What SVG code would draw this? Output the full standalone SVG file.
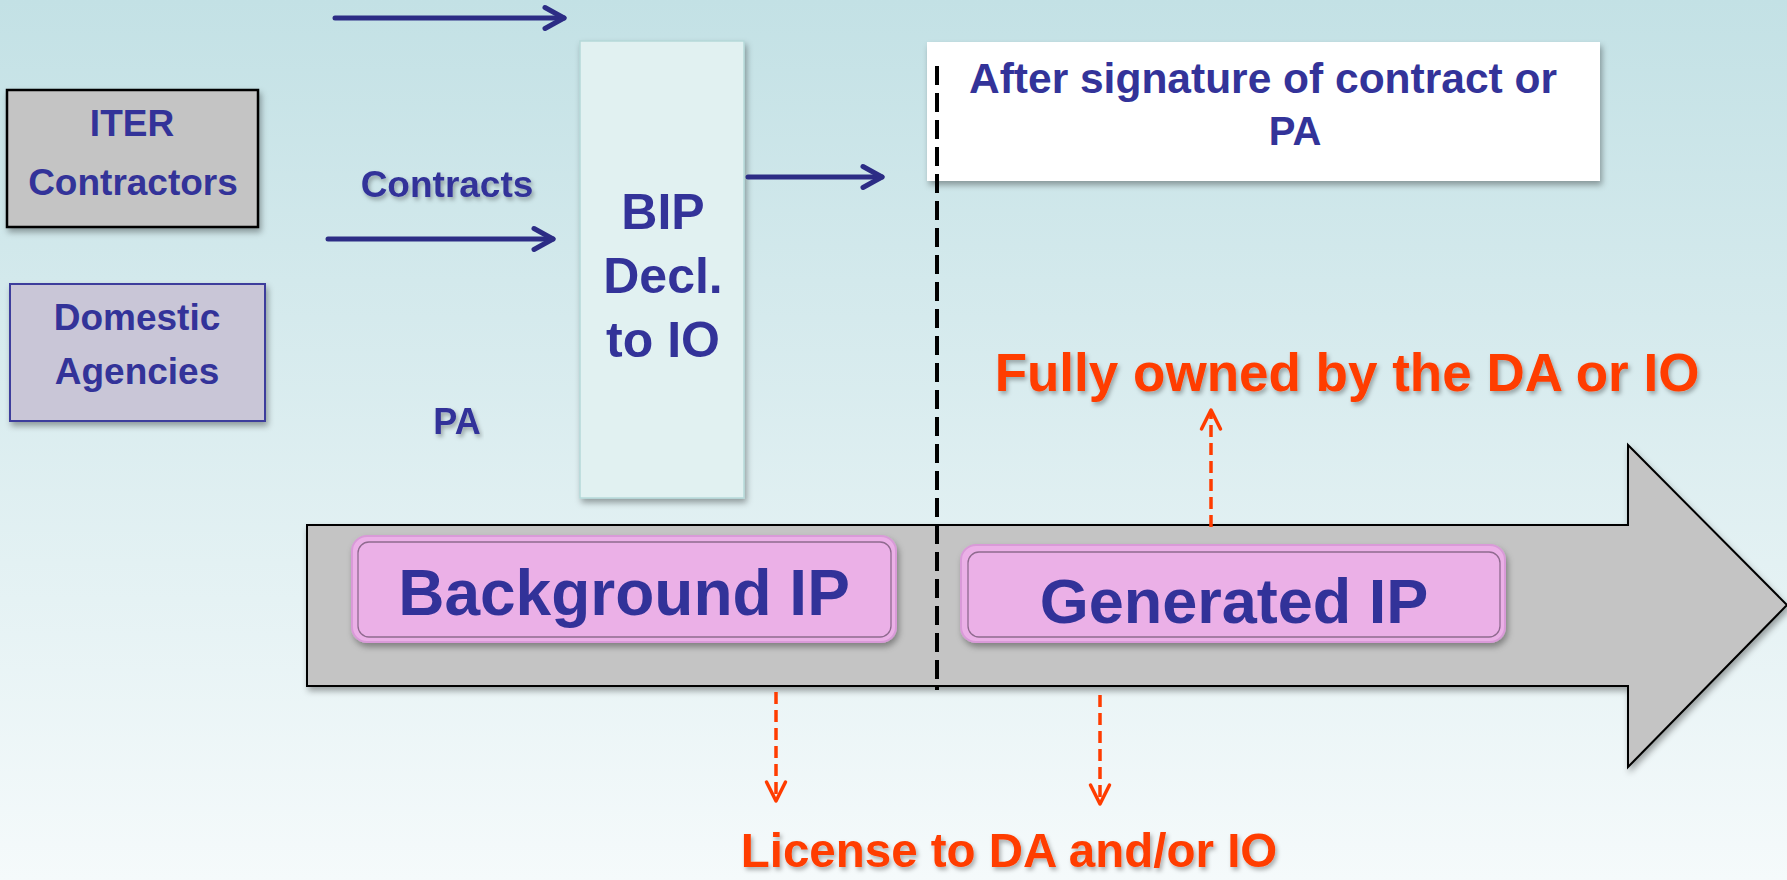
<svg xmlns="http://www.w3.org/2000/svg" width="1787" height="880" viewBox="0 0 1787 880">
<defs>
<linearGradient id="bg" x1="0" y1="0" x2="0" y2="1">
<stop offset="0" stop-color="#c3e1e5"/>
<stop offset="1" stop-color="#f5fafb"/>
</linearGradient>
<filter id="sh" x="-10%" y="-10%" width="130%" height="140%">
<feDropShadow dx="2" dy="4" stdDeviation="3" flood-color="#000" flood-opacity="0.35"/>
</filter>
<filter id="tsh" x="-5%" y="-20%" width="110%" height="150%">
<feDropShadow dx="2" dy="3" stdDeviation="2" flood-color="#000" flood-opacity="0.3"/>
</filter>
<marker id="navyHead" markerUnits="userSpaceOnUse" markerWidth="30" markerHeight="30" viewBox="-24 -15 30 30" refX="0" refY="0" orient="auto" overflow="visible">
<path d="M-19,-10.5 L0,0 L-19,10.5" fill="none" stroke="#2c2c85" stroke-width="5" stroke-linecap="round" stroke-linejoin="round"/>
</marker>
<marker id="redHead" markerUnits="userSpaceOnUse" markerWidth="30" markerHeight="30" viewBox="-24 -15 30 30" refX="0" refY="0" orient="auto" overflow="visible">
<path d="M-19,-9.5 L0,0 L-19,9.5" fill="none" stroke="#ff3c00" stroke-width="3.5" stroke-linecap="round" stroke-linejoin="round"/>
</marker>
<style>
.t{font-family:"Liberation Sans",Arial,Helvetica,sans-serif;font-weight:bold;fill:#333399;text-anchor:middle}
.r{font-family:"Liberation Sans",Arial,Helvetica,sans-serif;font-weight:bold;fill:#ff3c00;text-anchor:middle}
.navy{stroke:#2c2c85;stroke-width:5;fill:none;stroke-linecap:round;marker-end:url(#navyHead)}
.red{stroke:#ff3c00;stroke-width:3.5;fill:none;stroke-dasharray:12 6;marker-end:url(#redHead)}
.pill{fill:#ebb0e7;stroke:#d99ad8;stroke-width:2}
.pin{fill:none;stroke:#8f6a8f;stroke-width:1.3}
</style>
</defs>
<rect x="0" y="0" width="1787" height="880" fill="url(#bg)"/>

<g id="timeline">
<path d="M307,525 H1628 V445 L1787,605 L1628,767 V686 H307 Z" fill="#c4c4c4" stroke="#000" stroke-width="2" filter="url(#sh)"/>
</g>

<g id="background-ip" filter="url(#sh)">
<rect class="pill" x="352" y="536" width="544" height="106" rx="15"/>
<rect class="pin" x="358" y="542" width="533" height="95" rx="11"/>
<text class="t" x="624" y="615" font-size="64">Background IP</text>
</g>

<g id="generated-ip" filter="url(#sh)">
<rect class="pill" x="961" y="545" width="544" height="97" rx="15"/>
<rect class="pin" x="968" y="552" width="532" height="85" rx="11"/>
<text class="t" x="1234" y="623" font-size="63">Generated IP</text>
</g>

<g id="iter-contractors">
<rect x="7" y="90" width="251" height="137" fill="#c4c4c4" stroke="#000" stroke-width="2.5" filter="url(#sh)"/>
<text class="t" x="132" y="136" font-size="37">ITER</text>
<text class="t" x="133" y="195" font-size="37">Contractors</text>
</g>

<g id="domestic-agencies">
<rect x="10" y="284" width="255" height="137" fill="#c9c6d7" stroke="#3c3c9c" stroke-width="2" filter="url(#sh)"/>
<text class="t" x="137" y="330" font-size="37">Domestic</text>
<text class="t" x="137" y="384" font-size="37">Agencies</text>
</g>

<g id="contracts-label">
<text class="t" x="447" y="197" font-size="37" filter="url(#tsh)">Contracts</text>
</g>

<g id="pa-label">
<text class="t" x="457" y="434" font-size="36" filter="url(#tsh)">PA</text>
</g>

<g id="bip-declaration">
<rect x="580" y="41" width="164" height="457" fill="#e1f1f1" stroke="#b5d9d9" stroke-width="1.5" filter="url(#sh)"/>
<text class="t" x="663" y="229" font-size="50">BIP</text>
<text class="t" x="663" y="293" font-size="50">Decl.</text>
<text class="t" x="663" y="357" font-size="50">to IO</text>
</g>

<g id="after-signature">
<rect x="927" y="42" width="673" height="139" fill="#ffffff" filter="url(#sh)"/>
<text class="t" x="1263" y="93" font-size="42.5">After signature of contract or</text>
<text class="t" x="1295" y="145" font-size="40">PA</text>
</g>

<g id="fully-owned">
<text class="r" x="1347" y="391" font-size="53" filter="url(#tsh)">Fully owned by the DA or IO</text>
</g>

<g id="license">
<text class="r" x="1009" y="867" font-size="47.5" filter="url(#tsh)">License to DA and/or IO</text>
</g>

<g id="connectors">
<line class="navy" x1="335" y1="18" x2="564" y2="18"/>
<line class="navy" x1="328" y1="239" x2="553" y2="239"/>
<line class="navy" x1="748" y1="177" x2="882" y2="177"/>
<line x1="937" y1="66" x2="937" y2="690" stroke="#000" stroke-width="4" stroke-dasharray="19 8"/>
<line class="red" x1="1211" y1="527" x2="1211" y2="410"/>
<line class="red" x1="776" y1="692" x2="776" y2="801"/>
<line class="red" x1="1100" y1="695" x2="1100" y2="804"/>
</g>
</svg>
